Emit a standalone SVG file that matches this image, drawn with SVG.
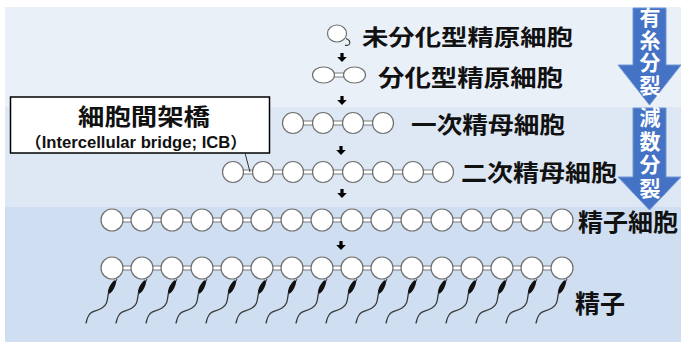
<svg xmlns="http://www.w3.org/2000/svg" width="681" height="349" viewBox="0 0 681 349">
  <defs>
    <style>
      .cell { fill: #ffffff; stroke: #707070; stroke-width: 1.2; }
      .bridge { fill: #ffffff; stroke: #707070; stroke-width: 0.9; }
      .lbl { font-family: "Noto Sans CJK JP", "Noto Sans", sans-serif; font-weight: 700; fill: #111111; }
      .vtx { font-family: "Noto Sans CJK JP", "Noto Sans", sans-serif; font-weight: 700; fill: #ffffff; font-size: 21px; writing-mode: vertical-rl; }
      .stage { fill: #4472c4; stroke: #7096d6; stroke-width: 1; }
      .step { fill: #000000; }
      .head { fill: #111111; }
      .tail { fill: none; stroke: #3a3a3a; stroke-width: 1.3; stroke-linecap: round; }
      .neck { fill: none; stroke: #333333; stroke-width: 1; }
    </style>
    <!-- one spermatozoon hanging below a cell centred at (0,0) -->
    <g id="sperm">
      <line class="neck" x1="5" y1="11" x2="3.5" y2="14"/>
      <ellipse class="head" cx="0" cy="19" rx="2.4" ry="7.5" transform="rotate(28 0 19)"/>
      <path class="tail" d="M -3.5,25 C -5,32 -4,36 -10,40 C -16,44 -20,42 -23,47 C -25,50 -25,52 -26,55"/>
    </g>
    <!-- small downward step arrow, tip at (0,9) -->
    <path id="step" class="step" d="M -1.6,0 h3.2 v4 h3.2 l-4.8,5 l-4.8,-5 h3.2 z"/>
  </defs>

  <!-- background bands -->
  <rect x="5" y="7" width="676" height="100" fill="#eaf0f8"/>
  <rect x="5" y="107" width="676" height="100" fill="#dee8f4"/>
  <rect x="5" y="207" width="676" height="135" fill="#cfdff1"/>

  <!-- stage arrows on the right -->
  <g id="mitosis">
    <path class="stage" d="M 633,8 H 666 V 65 H 681 L 649.5,105 L 618,65 H 633 Z"/>
    <text class="vtx" x="650" y="7" letter-spacing="1.5">有糸分裂</text>
  </g>
  <g id="meiosis">
    <path class="stage" d="M 633,108 H 666 V 177 H 681 L 649.5,210 L 618,177 H 633 Z"/>
    <text class="vtx" x="650" y="107" letter-spacing="2.5">減数分裂</text>
  </g>

  <!-- undifferentiated spermatogonium -->
  <g id="undiff-spermatogonium">
    <ellipse class="cell" cx="337" cy="33.5" rx="9.5" ry="8.5"/>
    <path d="M 346,38.5 q 5,2 3.5,5.5 q -1.5,2 -4.5,1.2" fill="none" stroke="#333333" stroke-width="1.1"/>
    <text class="lbl" x="362" y="45" font-size="22" textLength="211" lengthAdjust="spacingAndGlyphs">未分化型精原細胞</text>
  </g>

  <!-- differentiated spermatogonia -->
  <g id="diff-spermatogonia">
    <rect class="bridge" x="333" y="73" width="12" height="4"/>
    <ellipse class="cell" cx="323.5" cy="75" rx="11" ry="8"/>
    <ellipse class="cell" cx="354.5" cy="75" rx="11" ry="8"/>
    <text class="lbl" x="378" y="85.5" font-size="23" textLength="185" lengthAdjust="spacingAndGlyphs">分化型精原細胞</text>
  </g>

  <!-- primary spermatocytes -->
  <g id="primary-spermatocytes">
    <rect class="bridge" x="300" y="121" width="80" height="4"/>
    <circle class="cell" cx="293" cy="123" r="10.5"/>
    <circle class="cell" cx="323" cy="123" r="10.5"/>
    <circle class="cell" cx="353" cy="123" r="10.5"/>
    <circle class="cell" cx="383" cy="123" r="10.5"/>
    <text class="lbl" x="411" y="133" font-size="23" textLength="154" lengthAdjust="spacingAndGlyphs">一次精母細胞</text>
  </g>

  <!-- secondary spermatocytes -->
  <g id="secondary-spermatocytes">
    <rect class="bridge" x="240" y="170" width="196" height="4"/>
    <circle class="cell" cx="233" cy="172" r="10.5"/>
    <circle class="cell" cx="263" cy="172" r="10.5"/>
    <circle class="cell" cx="293" cy="172" r="10.5"/>
    <circle class="cell" cx="323" cy="172" r="10.5"/>
    <circle class="cell" cx="353" cy="172" r="10.5"/>
    <circle class="cell" cx="383" cy="172" r="10.5"/>
    <circle class="cell" cx="413" cy="172" r="10.5"/>
    <circle class="cell" cx="443" cy="172" r="10.5"/>
    <text class="lbl" x="461" y="181" font-size="23" textLength="156" lengthAdjust="spacingAndGlyphs">二次精母細胞</text>
  </g>

  <!-- spermatids -->
  <g id="spermatids">
    <rect class="bridge" x="119" y="218" width="436" height="4"/>
    <circle class="cell" cx="112" cy="220" r="11"/>
    <circle class="cell" cx="142" cy="220" r="11"/>
    <circle class="cell" cx="172" cy="220" r="11"/>
    <circle class="cell" cx="202" cy="220" r="11"/>
    <circle class="cell" cx="232" cy="220" r="11"/>
    <circle class="cell" cx="262" cy="220" r="11"/>
    <circle class="cell" cx="292" cy="220" r="11"/>
    <circle class="cell" cx="322" cy="220" r="11"/>
    <circle class="cell" cx="352" cy="220" r="11"/>
    <circle class="cell" cx="382" cy="220" r="11"/>
    <circle class="cell" cx="412" cy="220" r="11"/>
    <circle class="cell" cx="442" cy="220" r="11"/>
    <circle class="cell" cx="472" cy="220" r="11"/>
    <circle class="cell" cx="502" cy="220" r="11"/>
    <circle class="cell" cx="532" cy="220" r="11"/>
    <circle class="cell" cx="562" cy="220" r="11"/>
    <text class="lbl" x="578" y="230.5" font-size="24" textLength="100" lengthAdjust="spacingAndGlyphs">精子細胞</text>
  </g>

  <!-- spermatozoa -->
  <g id="spermatozoa">
    <rect class="bridge" x="119" y="266" width="436" height="4"/>
    <g class="cells">
      <circle class="cell" cx="112" cy="268" r="11"/>
      <circle class="cell" cx="142" cy="268" r="11"/>
      <circle class="cell" cx="172" cy="268" r="11"/>
      <circle class="cell" cx="202" cy="268" r="11"/>
      <circle class="cell" cx="232" cy="268" r="11"/>
      <circle class="cell" cx="262" cy="268" r="11"/>
      <circle class="cell" cx="292" cy="268" r="11"/>
      <circle class="cell" cx="322" cy="268" r="11"/>
      <circle class="cell" cx="352" cy="268" r="11"/>
      <circle class="cell" cx="382" cy="268" r="11"/>
      <circle class="cell" cx="412" cy="268" r="11"/>
      <circle class="cell" cx="442" cy="268" r="11"/>
      <circle class="cell" cx="472" cy="268" r="11"/>
      <circle class="cell" cx="502" cy="268" r="11"/>
      <circle class="cell" cx="532" cy="268" r="11"/>
      <circle class="cell" cx="562" cy="268" r="11"/>
    </g>
    <g class="tails">
      <use href="#sperm" x="112" y="268"/>
      <use href="#sperm" x="142" y="268"/>
      <use href="#sperm" x="172" y="268"/>
      <use href="#sperm" x="202" y="268"/>
      <use href="#sperm" x="232" y="268"/>
      <use href="#sperm" x="262" y="268"/>
      <use href="#sperm" x="292" y="268"/>
      <use href="#sperm" x="322" y="268"/>
      <use href="#sperm" x="352" y="268"/>
      <use href="#sperm" x="382" y="268"/>
      <use href="#sperm" x="412" y="268"/>
      <use href="#sperm" x="442" y="268"/>
      <use href="#sperm" x="472" y="268"/>
      <use href="#sperm" x="502" y="268"/>
      <use href="#sperm" x="532" y="268"/>
      <use href="#sperm" x="562" y="268"/>
    </g>
    <text class="lbl" x="575" y="313" font-size="25" textLength="50" lengthAdjust="spacingAndGlyphs">精子</text>
  </g>

  <!-- intercellular bridge callout -->
  <g id="icb-callout">
    <rect x="10.5" y="97" width="259" height="56" fill="#ffffff" stroke="#000000" stroke-width="1.5"/>
    <text class="lbl" x="78" y="125" font-size="23" textLength="132" lengthAdjust="spacingAndGlyphs">細胞間架橋</text>
    <text x="25" y="147.5" font-family="Liberation Sans, Noto Sans CJK JP, sans-serif" font-weight="700" font-size="16" fill="#111111" textLength="222" lengthAdjust="spacingAndGlyphs">（Intercellular bridge; ICB）</text>
  </g>

  <!-- connectors: stage-to-stage arrows and callout leader -->
  <g id="connectors">
    <use href="#step" x="342" y="53"/>
    <use href="#step" x="342" y="96"/>
    <use href="#step" x="341" y="146"/>
    <use href="#step" x="342" y="189"/>
    <use href="#step" x="341" y="241"/>
    <line x1="245" y1="153" x2="250" y2="172" stroke="#333333" stroke-width="1"/>
  </g>
</svg>
